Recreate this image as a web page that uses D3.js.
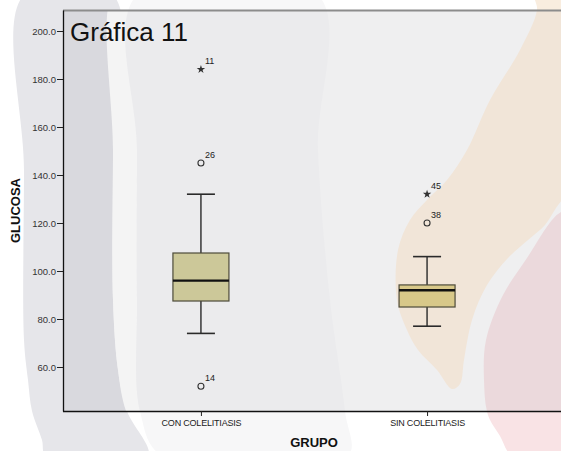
<!DOCTYPE html>
<html>
<head>
<meta charset="utf-8">
<script src="https://cdn.jsdelivr.net/npm/d3@7"></script>
<style>
  html, body { margin: 0; padding: 0; background: #ffffff; }
  svg { display: block; font-family: "Liberation Sans", Arial, sans-serif; }
</style>
</head>
<body>
<svg id="chart" width="561" height="451"></svg>
<script>
// Glucose by group: box summaries
const categories = ["CON COLELITIASIS", "SIN COLELITIASIS"];
const whiskerLow = [74, 77];
const q1 = [87.5, 85.0];
const median = [96.0, 92.0];
const q3 = [107.5, 94.2];
const whiskerHigh = [132, 106];

// Outlying cases (circle = outlier, star = extreme)
const outlierGroup = [0, 0, 0, 1, 1];
const outlierValue = [184, 145, 52, 132, 120];
const outlierCase = ["11", "26", "14", "45", "38"];
const outlierKind = ["extreme", "outlier", "outlier", "extreme", "outlier"];

const yTicks = [60, 80, 100, 120, 140, 160, 180, 200];

const svg = d3.select("#chart");
const W = 561, H = 451;
const plot = { left: 63, top: 10, right: 565, bottom: 411 };

// ---- background artwork ----
const defs = svg.append("defs");
defs.append("clipPath").attr("id", "plotClip")
  .append("rect")
  .attr("x", plot.left).attr("y", plot.top)
  .attr("width", plot.right - plot.left).attr("height", plot.bottom - plot.top);

const curve = d3.line().curve(d3.curveCatmullRomClosed.alpha(0.5));
const shapes = {
  grayBand: [[24, -5], [24, 170], [24, 340], [28, 380], [32, 411], [42, 440], [46, 456], [148, 456], [127, 411], [118, 370], [113, 300], [113, 150], [113, -5]],
  lightStrip: [[113, -5], [113, 150], [113, 300], [118, 370], [126, 411], [148, 456], [162, 456], [140, 411], [137, 300], [137, 150], [137, -5]],
  midBand: [[137, -5], [137, 150], [137, 300], [140, 411], [162, 456], [348, 456], [345, 411], [330, 300], [318, 150], [318, -5]],
  orange: [[535, -5], [537, 10], [520, 50], [490, 100], [467, 150], [447, 180], [427, 200], [410, 220], [398, 250], [397, 300], [407, 330], [418, 350], [437, 370], [452, 389], [460, 384], [464, 360], [472, 320], [487, 285], [508, 258], [528, 240], [545, 225], [556, 208], [580, 170], [580, 60], [580, -5], [560, -5]],
  pink: [[580, 205], [561, 212], [552, 220], [527, 258], [503, 295], [486, 340], [484, 380], [488, 415], [500, 436], [512, 456], [545, 460], [580, 460], [580, 330]]
};
function shapePath(pts) { return curve(pts); }

const outer = svg.append("g");
outer.append("rect").attr("width", W).attr("height", H).attr("fill", "#ffffff");
outer.append("path").attr("d", shapePath(shapes.grayBand)).attr("fill", "#e6e6ea");
outer.append("path").attr("d", shapePath(shapes.midBand)).attr("fill", "#f7f7f8");
outer.append("path").attr("d", shapePath(shapes.orange)).attr("fill", "#f9eddf");
outer.append("path").attr("d", shapePath(shapes.pink)).attr("fill", "#f9e3e5");

const inner = svg.append("g").attr("clip-path", "url(#plotClip)");
inner.append("rect")
  .attr("x", plot.left).attr("y", plot.top)
  .attr("width", plot.right - plot.left).attr("height", plot.bottom - plot.top)
  .attr("fill", "#efeff0");
inner.append("path").attr("d", shapePath(shapes.grayBand)).attr("fill", "#d9d9de");
inner.append("path").attr("d", shapePath(shapes.lightStrip)).attr("fill", "#f4f4f4");
inner.append("path").attr("d", shapePath(shapes.midBand)).attr("fill", "#ebebed");
inner.append("path").attr("d", shapePath(shapes.orange)).attr("fill", "#f1e5d8");
inner.append("path").attr("d", shapePath(shapes.pink)).attr("fill", "#ebd9dc");

// ---- scales ----
const x = d3.scalePoint().domain(categories).range([plot.left, plot.right]).padding(0.61);
const y = d3.scaleLinear().domain([41.67, 208.75]).range([plot.bottom, plot.top]);

// ---- frame ----
svg.append("line")
  .attr("x1", plot.left).attr("x2", W).attr("y1", plot.top + 0.5).attr("y2", plot.top + 0.5)
  .attr("stroke", "#8c8c8c").attr("stroke-width", 2);

// ---- title ----
svg.append("text")
  .attr("x", 70).attr("y", 41)
  .attr("font-size", 26).attr("fill", "#111")
  .text("Gráfica 11");

// ---- axes ----
const yAxis = svg.append("g")
  .attr("transform", `translate(${plot.left},0)`)
  .call(d3.axisLeft(y).tickValues(yTicks).tickFormat(d3.format(".1f")).tickSize(6).tickPadding(1).tickSizeOuter(0));
yAxis.select(".domain").attr("stroke", "#111").attr("stroke-width", 1.3);
yAxis.selectAll(".tick line").attr("stroke", "#222");
yAxis.selectAll(".tick text").attr("font-size", 9.5).attr("fill", "#333").attr("font-family", "Liberation Sans, Arial, sans-serif");

const xAxis = svg.append("g")
  .attr("transform", `translate(0,${plot.bottom})`)
  .call(d3.axisBottom(x).tickSize(5).tickPadding(4).tickSizeOuter(0));
xAxis.select(".domain").attr("d", `M${plot.left},0.5H${W}`).attr("stroke", "#111").attr("stroke-width", 1.3);
xAxis.selectAll(".tick line").attr("stroke", "#222");
xAxis.selectAll(".tick text").attr("font-size", 9).attr("fill", "#222").attr("letter-spacing", -0.2)
  .attr("font-family", "Liberation Sans, Arial, sans-serif");

svg.append("text")
  .attr("transform", `translate(20,${(plot.top + plot.bottom) / 2}) rotate(-90)`)
  .attr("text-anchor", "middle")
  .attr("font-size", 13).attr("font-weight", "bold").attr("fill", "#111")
  .text("GLUCOSA");

svg.append("text")
  .attr("x", 314).attr("y", 447)
  .attr("text-anchor", "middle")
  .attr("font-size", 13).attr("font-weight", "bold").attr("fill", "#111")
  .text("GRUPO");

// ---- boxes ----
const boxHalf = 28, capHalf = 14;
const boxFill = ["#ccc899", "#d8c889"];
const g = svg.append("g");
categories.forEach((c, i) => {
  const cx = x(c);
  // whiskers
  g.append("line").attr("x1", cx).attr("x2", cx).attr("y1", y(whiskerHigh[i])).attr("y2", y(q3[i]))
    .attr("stroke", "#2a2a2a").attr("stroke-width", 1.4);
  g.append("line").attr("x1", cx).attr("x2", cx).attr("y1", y(q1[i])).attr("y2", y(whiskerLow[i]))
    .attr("stroke", "#2a2a2a").attr("stroke-width", 1.4);
  [whiskerHigh[i], whiskerLow[i]].forEach(v => {
    g.append("line").attr("x1", cx - capHalf).attr("x2", cx + capHalf).attr("y1", y(v)).attr("y2", y(v))
      .attr("stroke", "#2a2a2a").attr("stroke-width", 1.6);
  });
  // box
  g.append("rect")
    .attr("x", cx - boxHalf).attr("width", boxHalf * 2)
    .attr("y", y(q3[i])).attr("height", y(q1[i]) - y(q3[i]))
    .attr("fill", boxFill[i]).attr("stroke", "#4d4b3a").attr("stroke-width", 1.2);
  // median
  g.append("line").attr("x1", cx - boxHalf).attr("x2", cx + boxHalf).attr("y1", y(median[i])).attr("y2", y(median[i]))
    .attr("stroke", "#111").attr("stroke-width", 2.4);
});

// ---- outliers ----
const star = d3.symbol().type(d3.symbolStar).size(22);
outlierValue.forEach((v, k) => {
  const cx = x(categories[outlierGroup[k]]);
  const cy = y(v);
  if (outlierKind[k] === "extreme") {
    g.append("path").attr("d", star).attr("transform", `translate(${cx},${cy})`).attr("fill", "#333");
  } else {
    g.append("circle").attr("cx", cx).attr("cy", cy).attr("r", 3)
      .attr("fill", "none").attr("stroke", "#333").attr("stroke-width", 1.1);
  }
  g.append("text")
    .attr("x", cx + 4).attr("y", cy - 5)
    .attr("font-size", 9).attr("fill", "#222")
    .text(outlierCase[k]);
});
</script>
</body>
</html>
